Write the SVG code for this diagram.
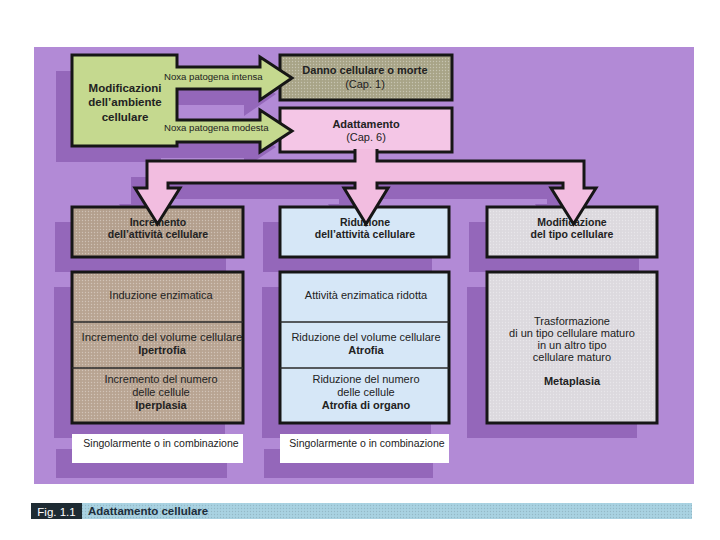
<svg xmlns="http://www.w3.org/2000/svg" width="720" height="540" viewBox="0 0 720 540">
<defs>
<pattern id="dotsL" width="3" height="3" patternUnits="userSpaceOnUse"><circle cx="1.5" cy="1.5" r="0.7" fill="#ffffff" fill-opacity="0.35"/></pattern>
<pattern id="dotsD" width="3" height="3" patternUnits="userSpaceOnUse"><circle cx="1.5" cy="1.5" r="0.7" fill="#000000" fill-opacity="0.12"/></pattern>
<style>
text{font-family:"Liberation Sans",Arial,Helvetica,sans-serif;fill:#222;}
.b{font-weight:bold;}
.c{text-anchor:middle;}
.box{stroke:#161616;stroke-width:3;}
.div{stroke:#2a2a2a;stroke-width:1.5;}
.sh{fill:#8a5bb0;fill-opacity:0.75;}
.t1{font-size:11px;}
.t2{font-size:11px;}
.t3{font-size:10.5px;}
</style>
</defs>
<rect x="0" y="0" width="720" height="540" fill="#ffffff"/>
<rect x="34" y="47" width="660" height="437" fill="#b28ad6"/>

<g id="shadows">
<path class="sh" d="M56,71 H161 V83 H244 V73 L276,94 L244,116 V105 H161 V136 H244 V126 L276,147 L244,168 V158 H161 V162 H56 Z"/>
<path class="sh" d="M361,166 V177 H568 V204 H580 L557.5,240 L535,204 H547 V199 H361 V204 H372 L350,240 L328,204 H339 V199 H152 V204 H164 L141.5,240 L119,204 H131 V177 H339 V166 Z"/>
<rect class="sh" x="55" y="222" width="171" height="50"/>
<rect class="sh" x="263" y="222" width="169" height="50"/>
<rect class="sh" x="469" y="222" width="170" height="50"/>
<rect class="sh" x="54" y="287" width="171" height="151"/>
<rect class="sh" x="262" y="287" width="169" height="151"/>
<rect class="sh" x="467" y="287" width="170" height="151"/>
<rect class="sh" x="56" y="449" width="171" height="29"/>
<rect class="sh" x="264" y="449" width="169" height="29"/>
</g>

<g id="danno">
<rect class="box" x="280" y="55" width="172" height="45" fill="#a8a487"/>
<rect x="282" y="57" width="168" height="41" fill="url(#dotsL)"/>
<text class="b c t1" x="365" y="74">Danno cellulare o morte</text>
<text class="c t1" x="365" y="88">(Cap. 1)</text>
</g>

<g id="adattamento">
<rect class="box" x="280" y="108" width="172" height="44" fill="#f4c6e6"/>
<text class="b c t1" x="366" y="128">Adattamento</text>
<text class="c t1" x="366" y="141">(Cap. 6)</text>
</g>

<g id="incremento">
<rect class="box" x="72" y="207" width="171" height="50" fill="#b39f8d"/>
<rect x="74" y="209" width="167" height="46" fill="url(#dotsL)"/>
<text class="b c t3" x="158" y="226">Incremento</text>
<text class="b c t3" x="158" y="238">dell’attività cellulare</text>
</g>

<g id="riduzione">
<rect class="box" x="280" y="207" width="169" height="50" fill="#d6e7f7"/>
<text class="b c t3" x="365" y="226">Riduzione</text>
<text class="b c t3" x="365" y="238">dell’attività cellulare</text>
</g>

<g id="modificazione-tipo">
<rect class="box" x="487" y="207" width="170" height="50" fill="#dcd9de"/>
<rect x="489" y="209" width="166" height="46" fill="url(#dotsL)"/>
<text class="b c t3" x="572" y="226">Modificazione</text>
<text class="b c t3" x="572" y="238">del tipo cellulare</text>
</g>

<g id="connectors">
<path d="M377,149 V161 H584 V188 H596 L573.5,224 L551,188 H563 V183 H377 V188 H388 L366,224 L344,188 H355 V183 H168 V188 H180 L157.5,224 L135,188 H147 V161 H355 V149" fill="#f2bde0" stroke="#161616" stroke-width="3" stroke-linejoin="miter"/>
</g>

<g id="modificazioni-ambiente">
<path class="box" d="M72,55 H177 V67 H260 V57 L292,78 L260,100 V89 H177 V120 H260 V110 L292,131 L260,152 V142 H177 V146 H72 Z" fill="#c5d98f" stroke-linejoin="miter"/>
<text class="b c" x="125" y="92" font-size="11.5">Modificazioni</text>
<text class="b c" x="125" y="106" font-size="11.5">dell’ambiente</text>
<text class="b c" x="125" y="121" font-size="11.5">cellulare</text>
<text x="164" y="80" font-size="9.6">Noxa patogena intensa</text>
<text x="164" y="131" font-size="9.6">Noxa patogena modesta</text>
</g>

<g id="incremento-dettaglio">
<rect class="box" x="72" y="272" width="171" height="151" fill="#b8a492"/>
<rect x="74" y="274" width="167" height="147" fill="url(#dotsL)"/>
<line class="div" x1="72" y1="322" x2="243" y2="322"/>
<line class="div" x1="72" y1="368" x2="243" y2="368"/>
<text class="c t2" x="161" y="299">Induzione enzimatica</text>
<text class="c" x="162" y="341" font-size="11.4">Incremento del volume cellulare</text>
<text class="b c t2" x="162" y="354">Ipertrofia</text>
<text class="c t2" x="161" y="383">Incremento del numero</text>
<text class="c t2" x="161" y="396">delle cellule</text>
<text class="b c t2" x="161" y="409">Iperplasia</text>
</g>

<g id="riduzione-dettaglio">
<rect class="box" x="280" y="272" width="169" height="151" fill="#d6e7f7"/>
<line class="div" x1="280" y1="322" x2="449" y2="322"/>
<line class="div" x1="280" y1="368" x2="449" y2="368"/>
<text class="c t2" x="366" y="299">Attività enzimatica ridotta</text>
<text class="c t2" x="366" y="341">Riduzione del volume cellulare</text>
<text class="b c t2" x="366" y="354">Atrofia</text>
<text class="c t2" x="366" y="383">Riduzione del numero</text>
<text class="c t2" x="366" y="396">delle cellule</text>
<text class="b c t2" x="366" y="409">Atrofia di organo</text>
</g>

<g id="metaplasia">
<rect class="box" x="487" y="272" width="170" height="151" fill="#dcd9de"/>
<rect x="489" y="274" width="166" height="147" fill="url(#dotsL)"/>
<text class="c t2" x="572" y="325">Trasformazione</text>
<text class="c t2" x="572" y="337">di un tipo cellulare maturo</text>
<text class="c t2" x="572" y="349">in un altro tipo</text>
<text class="c t2" x="572" y="361">cellulare maturo</text>
<text class="b c t2" x="572" y="385">Metaplasia</text>
</g>

<g id="nota-sinistra">
<rect x="72" y="434" width="171" height="29" fill="#ffffff"/>
<text class="c t3" x="161" y="447">Singolarmente o in combinazione</text>
</g>

<g id="nota-centro">
<rect x="280" y="434" width="169" height="29" fill="#ffffff"/>
<text class="c t3" x="367" y="447">Singolarmente o in combinazione</text>
</g>

<g id="didascalia">
<rect x="31" y="503" width="51" height="16" fill="#1e2b33"/>
<rect x="82" y="503" width="610" height="16" fill="#a9d2e2"/>
<rect x="82" y="503" width="610" height="16" fill="url(#dotsD)"/>
<text class="c" x="56.5" y="515.5" font-size="11.5" style="fill:#ffffff">Fig. 1.1</text>
<text class="b" x="88" y="515" font-size="11.5" style="fill:#1d2d3a">Adattamento cellulare</text>
</g>
</svg>
